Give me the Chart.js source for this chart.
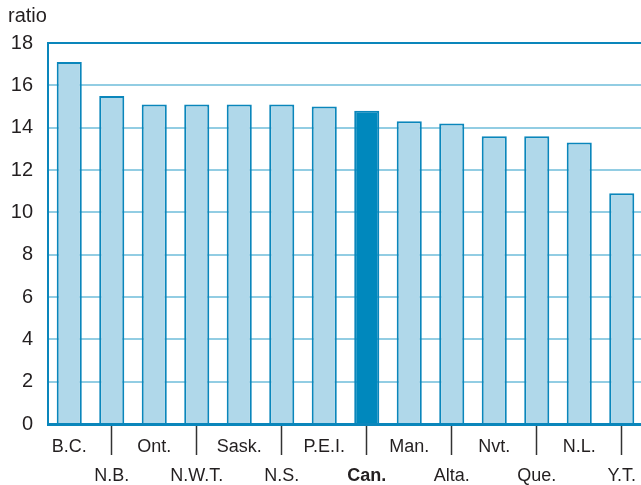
<!DOCTYPE html>
<html lang="en">
<head>
    <meta charset="UTF-8">
    <title>Ratio by province</title>
    <style>
        body {
            margin: 0;
            padding: 0;
            background-color: #ffffff;
            overflow: hidden;
        }
        #wrap {
            position: relative;
            width: 643px;
            height: 485px;
        }
        #unit {
            position: absolute;
            left: 8px;
            top: 4px;
            font-family: "Liberation Sans", Arial, sans-serif;
            font-size: 20px;
            color: #231f20;
        }
    </style>
</head>
<body>
    <div id="wrap">
        <canvas id="myChart" width="643" height="485"></canvas>
        <div id="unit">ratio</div>
    </div>
    <script src="https://cdn.jsdelivr.net/npm/chart.js"></script>
    <script>
        const regions = ['B.C.', 'N.B.', 'Ont.', 'N.W.T.', 'Sask.', 'N.S.', 'P.E.I.', 'Can.', 'Man.', 'Alta.', 'Nvt.', 'Que.', 'N.L.', 'Y.T.'];
        const ratios = [17.1, 15.5, 15.1, 15.1, 15.1, 15.1, 15.0, 14.8, 14.3, 14.2, 13.6, 13.6, 13.3, 10.9];
        const highlight = 'Can.';

        const dark = '#0a86bb';
        const light = '#b0d8ea';
        const gridBlue = '#92cde3';
        const textCol = '#231f20';

        const ctx = document.getElementById('myChart').getContext('2d');
        new Chart(ctx, {
            type: 'bar',
            data: {
                labels: regions,
                datasets: [{
                    data: ratios,
                    backgroundColor: regions.map(r => r === highlight ? '#0088bd' : light),
                    borderColor: dark,
                    borderWidth: 2,
                    barPercentage: 0.59,
                    categoryPercentage: 1
                }]
            },
            options: {
                responsive: false,
                animation: false,
                layout: { padding: { top: 43, left: 0, right: 0, bottom: 0 } },
                plugins: {
                    legend: { display: false },
                    tooltip: { enabled: false }
                },
                scales: {
                    x: {
                        afterFit: s => { s.height = 61; },
                        border: { color: dark, width: 3 },
                        grid: {
                            offset: false,
                            drawOnChartArea: false,
                            tickLength: 31,
                            tickWidth: 1.5,
                            tickColor: c => c.index % 2 ? '#333333' : 'rgba(0,0,0,0)'
                        },
                        ticks: {
                            autoSkip: false,
                            maxRotation: 0,
                            padding: -22.5,
                            color: textCol,
                            font: c => ({
                                family: '"Liberation Sans", Arial, sans-serif',
                                size: 18,
                                lineHeight: 29 / 18,
                                weight: regions[c.index] === highlight ? 'bold' : 'normal'
                            }),
                            callback: (v, i) => i % 2 ? ['', regions[i]] : [regions[i]]
                        }
                    },
                    y: {
                        min: 0,
                        max: 18,
                        afterFit: s => { s.width = 48; },
                        border: { color: dark, width: 2 },
                        grid: {
                            drawTicks: false,
                            lineWidth: 2,
                            color: c => c.tick.value === 18 ? dark : gridBlue
                        },
                        ticks: {
                            stepSize: 2,
                            padding: 15,
                            color: textCol,
                            font: { family: '"Liberation Sans", Arial, sans-serif', size: 20 }
                        }
                    }
                }
            }
        });
    </script>
</body>
</html>
